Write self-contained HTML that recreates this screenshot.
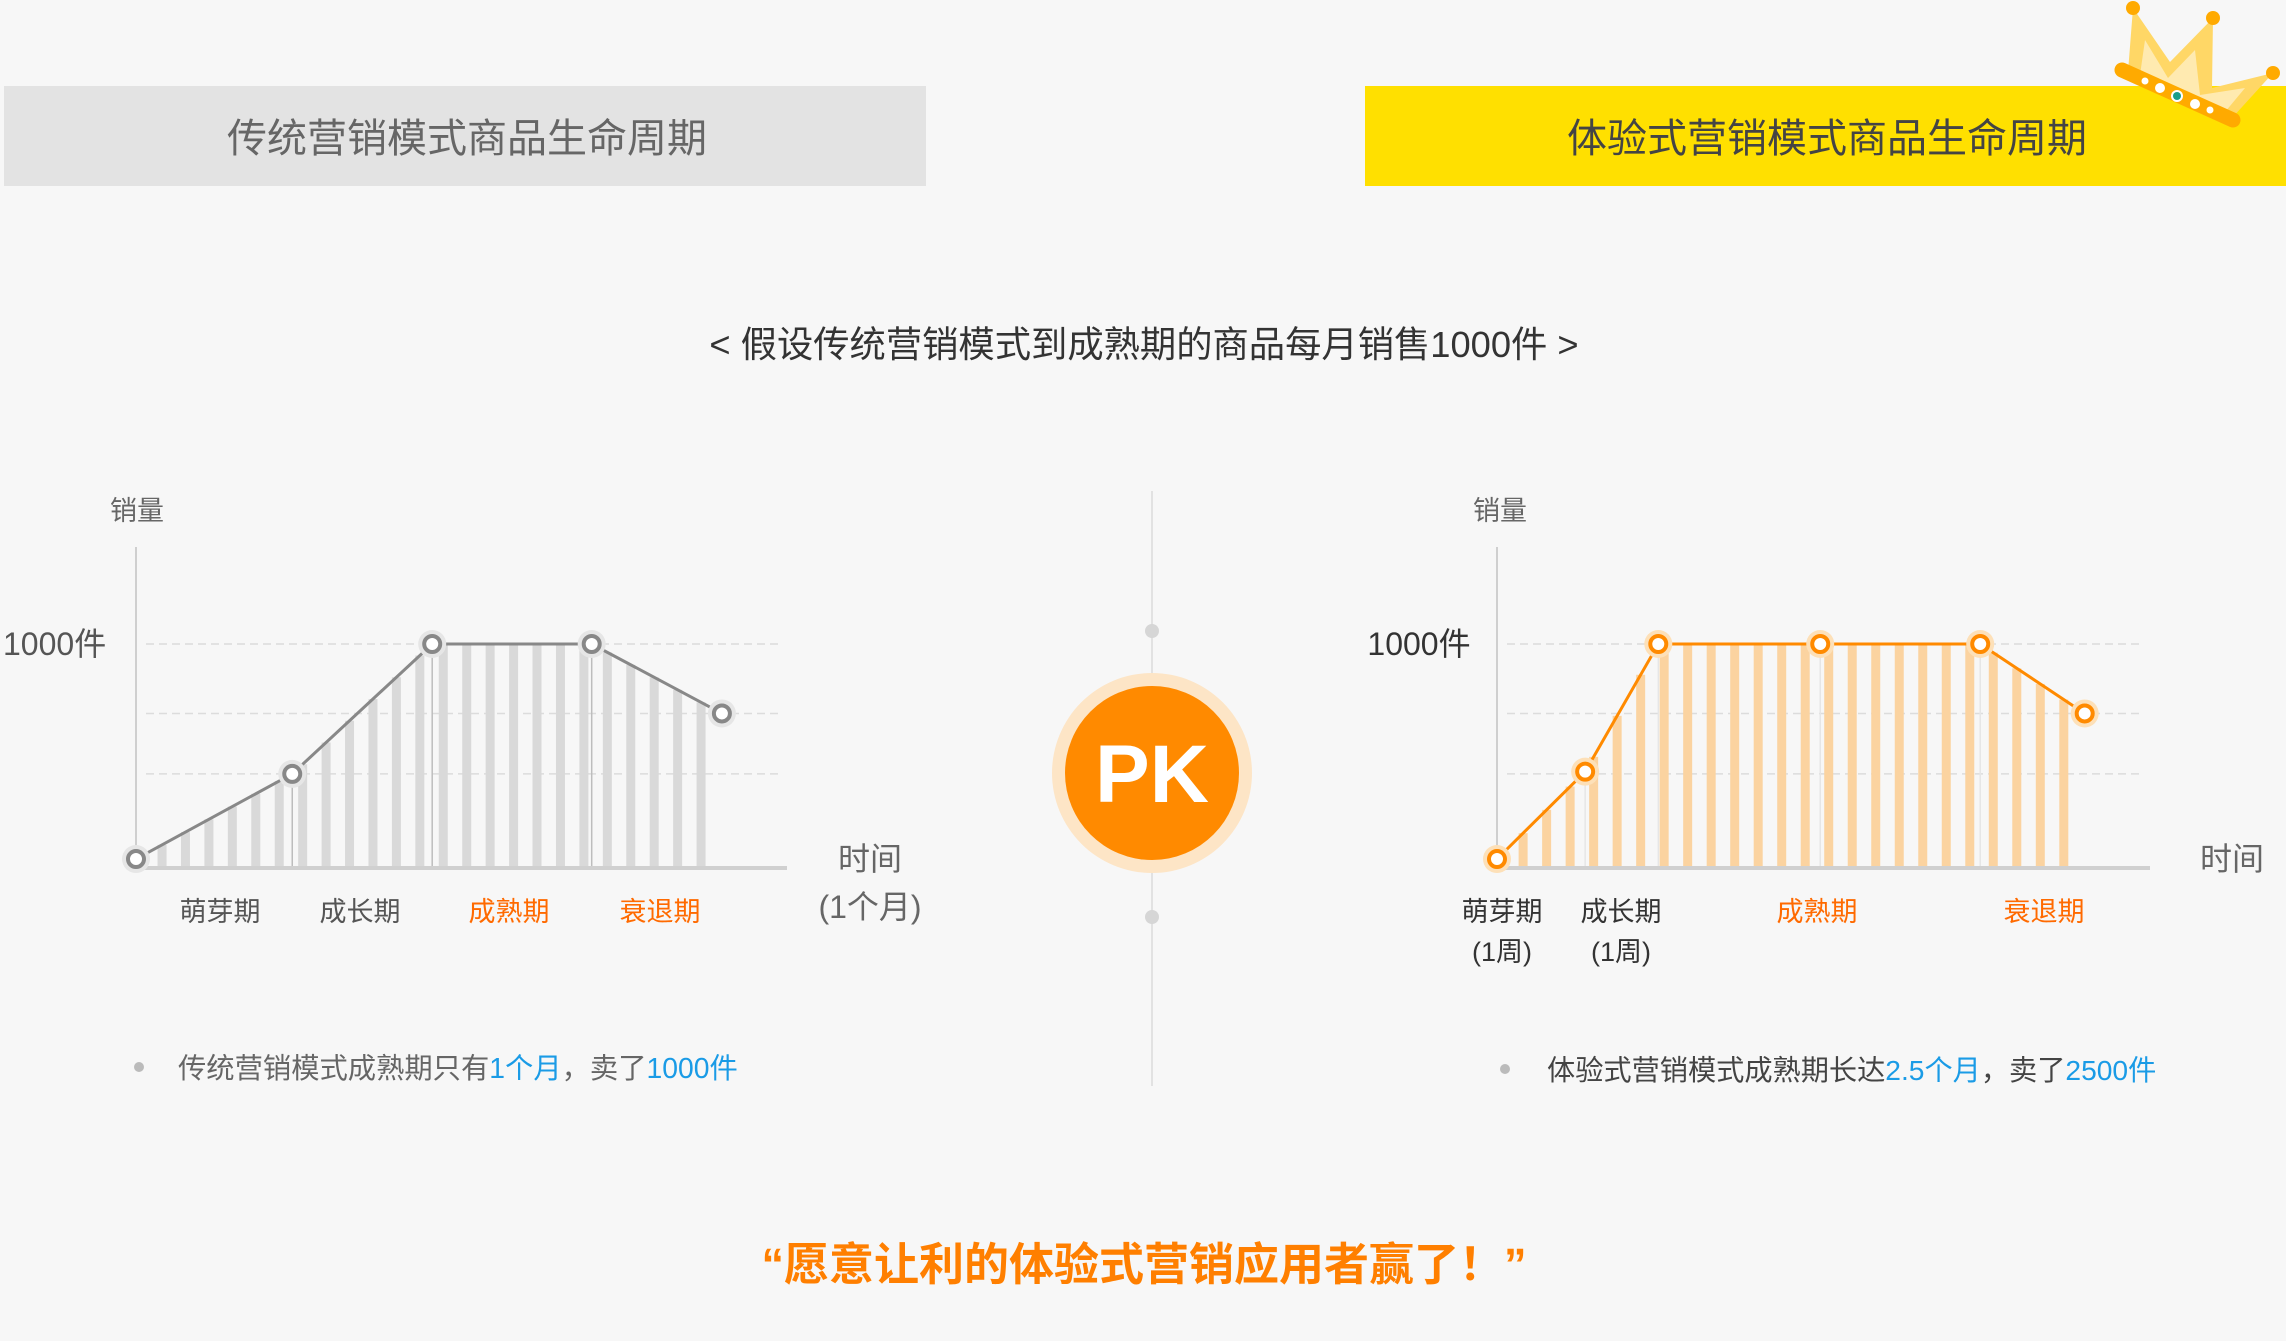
<!DOCTYPE html>
<html><head><meta charset="utf-8"><style>
html,body{margin:0;padding:0;background:#f7f7f7;}
svg{display:block;font-family:"Liberation Sans","Noto Sans CJK SC",sans-serif;}
</style></head><body>
<svg id="root" width="2286" height="1341" viewBox="0 0 2286 1341" xmlns="http://www.w3.org/2000/svg">
<rect width="2286" height="1341" fill="#f7f7f7"/>
<rect x="4" y="86" width="922" height="100" fill="#e3e3e3"/>
<text x="467" y="152" font-size="40" fill="#666" text-anchor="middle">传统营销模式商品生命周期</text>
<rect x="1365" y="86" width="921" height="100" fill="#ffe000"/>
<text x="1827" y="152" font-size="40" fill="#444" text-anchor="middle">体验式营销模式商品生命周期</text>
<g>
<polygon points="2128,72 2133,8 2170,62 2213,18 2212,88 2273,73 2232,118" fill="#ffd766"/>
<polygon points="2140,75 2145,40 2168,78 2195,50 2200,95 2245,88 2225,112" fill="#ffeab0"/>
<circle cx="2133" cy="8" r="7" fill="#ffaa00"/><circle cx="2213" cy="18" r="7" fill="#ffaa00"/><circle cx="2273" cy="73" r="7" fill="#ffaa00"/>
<line x1="2122" y1="70" x2="2233" y2="120" stroke="#ffaa00" stroke-width="15" stroke-linecap="round"/>
<circle cx="2145" cy="81" r="3.5" fill="#fff"/><circle cx="2160" cy="88" r="5" fill="#fff"/><circle cx="2177" cy="96" r="6" fill="#fff"/><circle cx="2177" cy="96" r="4" fill="#1a9e8a"/><circle cx="2195" cy="104" r="5" fill="#fff"/><circle cx="2210" cy="110" r="3.5" fill="#fff"/>
</g>
<text x="1144" y="357" font-size="36.3" fill="#333" text-anchor="middle">&lt; 假设传统营销模式到成熟期的商品每月销售1000件 &gt;</text>
<g>
<line x1="1152" y1="491" x2="1152" y2="1086" stroke="#e2e2e2" stroke-width="2"/>
<circle cx="1152" cy="631" r="7" fill="#d6d6d6"/><circle cx="1152" cy="917" r="7" fill="#d6d6d6"/>
<circle cx="1152" cy="773" r="100" fill="#fde5c6"/><circle cx="1152" cy="773" r="87" fill="#ff8a00"/>
<text x="1152" y="802" font-size="82" font-weight="bold" fill="#fff" text-anchor="middle">PK</text>
</g>
<g id="left-chart"></g>
<g id="right-chart"></g>
<text x="137" y="520" font-size="27" fill="#666" text-anchor="middle">销量</text>
<text x="3" y="655" font-size="32" fill="#555">1000件</text>
<text x="870" y="870" font-size="32" fill="#666" text-anchor="middle">时间</text>
<text x="870" y="918" font-size="32" fill="#666" text-anchor="middle">(1个月)</text>
<text x="220" y="921" font-size="27" fill="#555" text-anchor="middle">萌芽期</text>
<text x="360" y="921" font-size="27" fill="#555" text-anchor="middle">成长期</text>
<text x="509" y="921" font-size="27" fill="#ff6a00" text-anchor="middle">成熟期</text>
<text x="660" y="921" font-size="27" fill="#ff6a00" text-anchor="middle">衰退期</text>
<text x="1500" y="520" font-size="27" fill="#666" text-anchor="middle">销量</text>
<text x="1419" y="655" font-size="32" fill="#333" text-anchor="middle">1000件</text>
<text x="2232" y="870" font-size="32" fill="#666" text-anchor="middle">时间</text>
<text x="1502" y="921" font-size="27" fill="#333" text-anchor="middle">萌芽期</text>
<text x="1502" y="961" font-size="27" fill="#333" text-anchor="middle">(1周)</text>
<text x="1621" y="921" font-size="27" fill="#333" text-anchor="middle">成长期</text>
<text x="1621" y="961" font-size="27" fill="#333" text-anchor="middle">(1周)</text>
<text x="1817" y="921" font-size="27" fill="#ff6a00" text-anchor="middle">成熟期</text>
<text x="2044" y="921" font-size="27" fill="#ff6a00" text-anchor="middle">衰退期</text>
<circle cx="139" cy="1067" r="5" fill="#bbb"/>
<text x="178" y="1078" font-size="28.3" fill="#666">传统营销模式成熟期只有<tspan fill="#1a9be6">1个月</tspan>，卖了<tspan fill="#1a9be6">1000件</tspan></text>
<circle cx="1505" cy="1069" r="5" fill="#bbb"/>
<text x="1547" y="1080" font-size="28.2" fill="#444">体验式营销模式成熟期长达<tspan fill="#1a9be6">2.5个月</tspan>，卖了<tspan fill="#1a9be6">2500件</tspan></text>
<text x="1144" y="1280" font-size="45" font-weight="bold" fill="#ff7f00" text-anchor="middle">“愿意让利的体验式营销应用者赢了！”</text>
</svg>
<script>
const leftTimes=[0,24,45.5,70,90];
const leftSales=[40,420,1000,1000,690];
const rightTimes=[0,13.5,24.7,49.5,74,90];
const rightSales=[40,430,1000,1000,1000,690];
const gridValues=[1000,690,420];
const barStep=3.6;
const NS="http://www.w3.org/2000/svg";
function mk(tag,attrs,parent){const e=document.createElementNS(NS,tag);for(const k in attrs)e.setAttribute(k,attrs[k]);parent.appendChild(e);return e;}
function draw(gid,times,sales,x0,x1,opt){
  const g=document.getElementById(gid);
  const xs=t=>x0+t*(x1-x0)/100;
  const ys=v=>868-v*0.224;
  const interp=t=>{for(let i=0;i<times.length-1;i++){if(t>=times[i]&&t<=times[i+1]){const f=(t-times[i])/(times[i+1]-times[i]);return sales[i]+f*(sales[i+1]-sales[i]);}}return 0;};
  gridValues.forEach(v=>{const l=mk('line',{x1:x0+10,x2:x1-6,y1:ys(v),y2:ys(v),stroke:'#dcdcdc','stroke-width':1.5,'stroke-dasharray':'8,5'},g);
    
    });
  const last=times[times.length-1];
  for(let t=4;t<=last+0.01;t+=barStep){const v=interp(t);const r=mk('rect',{x:xs(t)-4.5,y:ys(v),width:9,height:868-ys(v),fill:opt.bar},g);
    
    }
  for(let i=1;i<times.length-1;i++){const l=mk('line',{x1:xs(times[i]),x2:xs(times[i]),y1:ys(sales[i]),y2:868,stroke:opt.vline,'stroke-width':1.5},g);
    
    }
  const ax=mk('line',{x1:x0,x2:x0,y1:547,y2:868,stroke:'#cfcfcf','stroke-width':2},g);
  
  
  const bx=mk('line',{x1:x0,x2:x1,y1:868,y2:868,stroke:'#d0d0d0','stroke-width':4},g);
  
  
  const pts=times.map((t,i)=>xs(t)+','+ys(sales[i])).join(' ');
  const pl=mk('polyline',{points:pts,fill:'none',stroke:opt.line,'stroke-width':3},g);
  
  
  times.forEach((t,i)=>{mk('circle',{cx:xs(t),cy:ys(sales[i]),r:14,fill:opt.halo},g);
    const c=mk('circle',{cx:xs(t),cy:ys(sales[i]),r:8,fill:'#fff',stroke:opt.line,'stroke-width':4},g);
    
    });
}
draw('left-chart',leftTimes,leftSales,136,787,{bar:'#d9d9d9',line:'#888',halo:'#e6e6e6',vline:'#bdbdbd'});
draw('right-chart',rightTimes,rightSales,1497,2150,{bar:'#fbd3a0',line:'#ff8a00',halo:'#fde0b8',vline:'#e6e6e6'});
</script>
</body></html>
